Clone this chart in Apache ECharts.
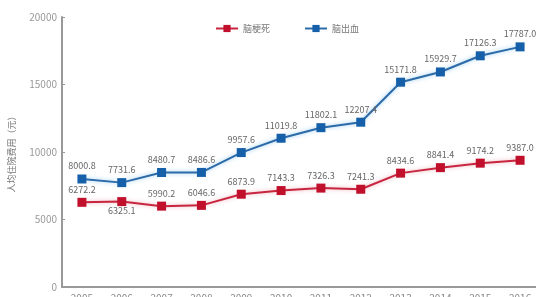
<!doctype html>
<html>
<head>
    <meta charset="utf-8">
    <title>人均住院费用</title>
    <script src="https://cdn.jsdelivr.net/npm/echarts@6/dist/echarts.min.js"></script>
</head>
<body style="margin:0;background:#fff;">
    <div id="container" style="width:536px;height:297px;"></div>
    <script type="text/javascript">
        // 年份
        var years = ['2005', '2006', '2007', '2008', '2009', '2010', '2011', '2012', '2013', '2014', '2015', '2016'];
        // 脑梗死 人均住院费用
        var infarction = [6272.2, 6325.1, 5990.2, 6046.6, 6873.9, 7143.3, 7326.3, 7241.3, 8434.6, 8841.4, 9174.2, 9387.0];
        // 脑出血 人均住院费用
        var hemorrhage = [8000.8, 7731.6, 8480.7, 8486.6, 9957.6, 11019.8, 11802.1, 12207.4, 15171.8, 15929.7, 17126.3, 17787.0];
        // y轴刻度
        var yTicks = [0, 5000, 10000, 15000, 20000];

        var labelStyle = {
            show: true,
            position: 'top',
            distance: 4,
            fontSize: 9,
            color: '#666',
            formatter: function (p) { return p.value.toFixed(1); }
        };

        var option = {
            animation: false,
            textStyle: { fontFamily: 'Noto Sans CJK SC' },
            legend: {
                top: 19,
                left: 210,
                itemGap: 34,
                itemWidth: 22,
                itemHeight: 9,
                textStyle: { fontSize: 9, color: '#777' },
                data: ['脑梗死', '脑出血']
            },
            grid: { left: 62, top: 17, width: 478, bottom: 10, containLabel: false, outerBoundsMode: 'none' },
            xAxis: {
                type: 'category',
                data: years,
                boundaryGap: true,
                axisLine: { lineStyle: { color: '#999', width: 2 } },
                axisTick: { inside: true, alignWithLabel: true, length: 3, lineStyle: { color: '#999' } },
                axisLabel: { fontSize: 10, color: '#888', margin: 6 }
            },
            yAxis: {
                type: 'value',
                min: yTicks[0],
                max: yTicks[yTicks.length - 1],
                interval: 5000,
                name: '人均住院费用（元）',
                nameLocation: 'middle',
                nameGap: 46,
                nameTextStyle: { fontSize: 9, color: '#777' },
                splitLine: { show: false },
                axisLine: { show: true, lineStyle: { color: '#999', width: 2 } },
                axisTick: { show: true, inside: true, length: 3, lineStyle: { color: '#999' } },
                axisLabel: {
                    fontSize: 10, color: '#999', margin: 5,
                    formatter: function (v) { return String(v); }
                }
            },
            series: [{
                name: '脑梗死',
                type: 'line',
                data: infarction,
                symbol: 'rect',
                symbolSize: 9,
                lineStyle: { color: '#c8253f', width: 2, shadowColor: 'rgba(200,37,63,0.35)', shadowBlur: 4 },
                itemStyle: { color: '#c0102c' },
                label: labelStyle,
                labelLayout: function (p) {
                    // 2006 年的标签在点下方
                    if (p.dataIndex === 1) {
                        return { dy: 22 };
                    }
                }
            }, {
                name: '脑出血',
                type: 'line',
                data: hemorrhage,
                symbol: 'rect',
                symbolSize: 9,
                lineStyle: { color: '#2c6aa8', width: 2, shadowColor: 'rgba(80,170,230,0.6)', shadowBlur: 4 },
                itemStyle: { color: '#1560a8' },
                label: labelStyle
            }]
        };

        var myChart = echarts.init(document.getElementById('container'));
        myChart.setOption(option);
    </script>
</body>
</html>
